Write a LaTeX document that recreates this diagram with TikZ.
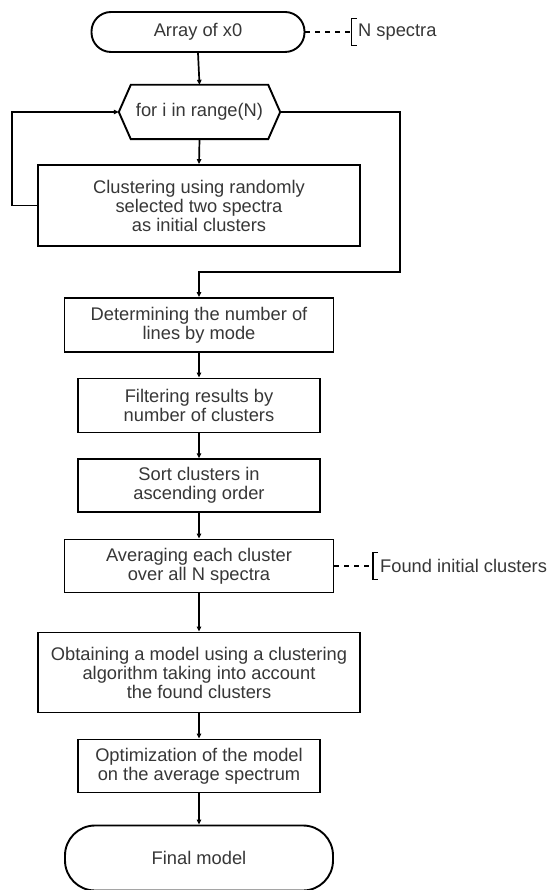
\documentclass[tikz,border=0pt]{standalone}
\usepackage{fontspec}
\setmainfont{Liberation Sans}
\usetikzlibrary{arrows.meta}
\definecolor{txt}{RGB}{55,55,55}
\tikzset{
  every node/.style={font=\fontsize{18.3}{19}\selectfont, text=txt, align=center, inner sep=0pt},
  box/.style={draw=black, line width=1.9pt, minimum width=#1},
  term/.style={draw=black, line width=1.9pt, rounded corners=#1},
  arr/.style={draw=black, line width=1.7pt, -{Triangle[length=5pt,width=4.5pt]}},
  dsh/.style={draw=black, line width=1.7pt, dash pattern=on 5pt off 5pt},
  brk/.style={draw=black, line width=1.7pt},
}
\begin{document}
\begin{tikzpicture}[x=1pt,y=-1pt]
\useasboundingbox (0,0) rectangle (549,890);
\fill[white] (0,0) rectangle (549,890);

\node[term=19.5pt, minimum width=213pt, minimum height=40pt] (start) at (198,32) {Array of x0};
\node[minimum width=161pt, minimum height=54pt] (hex) at (199.5,112) {for i in range(N)};
\draw[line width=1.9pt] (hex.west) -- ([xshift=12pt]hex.north west) -- ([xshift=-12pt]hex.north east)
  -- (hex.east) -- ([xshift=-12pt]hex.south east) -- ([xshift=12pt]hex.south west) -- cycle;

\node[box=322pt, minimum height=81pt] (clust) at (199,205.5) {Clustering using randomly\\selected two spectra\\as initial clusters};
\node[box=269pt, minimum height=54pt] (det) at (199,325) {Determining the number of\\lines by mode};
\node[box=242pt, minimum height=54pt] (filt) at (199,405.5) {Filtering results by\\number of clusters};
\node[box=242pt, minimum height=53pt] (sort) at (199,485.7) {Sort clusters in\\ascending order};
\node[box=269pt, minimum height=53pt] (avg) at (199,566) {Averaging each cluster\\over all N spectra};
\node[box=322pt, minimum height=80pt] (obt) at (199,672.5) {Obtaining a model using a clustering\\algorithm taking into account\\the found clusters};
\node[box=242pt, minimum height=53pt] (opt) at (199,766) {Optimization of the model\\on the average spectrum};
\node[term=30pt, minimum width=268pt, minimum height=65pt] (fin) at (199,858) {Final model};

% connectors
\draw[arr] (start.south) -- (hex.north);
\draw[arr] (hex.south) -- (clust.north);
\coordinate (lb) at (12,205.5);
\draw[arr] (clust.west) -- (lb) |- (hex.west);
\coordinate (rb) at (400,272);
\draw[arr] (hex.east) -| (rb) -| (det.north);
\draw[arr] (det.south) -- (filt.north);
\draw[arr] (filt.south) -- (sort.north);
\draw[arr] (sort.south) -- (avg.north);
\draw[arr] (avg.south) -- (obt.north);
\draw[arr] (obt.south) -- (opt.north);
\draw[arr] (opt.south) -- (fin.north);

% annotations
\node[anchor=west] (ann1) at (358,32) {N spectra};
\draw[brk] ([xshift=-1.5pt,yshift=13.5pt]ann1.west) -- ([xshift=-6.5pt,yshift=13.5pt]ann1.west)
  -- ([xshift=-6.5pt,yshift=-13.5pt]ann1.west) -- ([xshift=-1.5pt,yshift=-13.5pt]ann1.west);
\draw[dsh] (start.east) -- ([xshift=-6.5pt]ann1.west);

\node[anchor=west] (ann2) at (380,566) {Found initial clusters};
\draw[brk] ([xshift=-2pt,yshift=13.5pt]ann2.west) -- ([xshift=-7pt,yshift=13.5pt]ann2.west)
  -- ([xshift=-7pt,yshift=-13.5pt]ann2.west) -- ([xshift=-2pt,yshift=-13.5pt]ann2.west);
\draw[dsh] (avg.east) -- ([xshift=-7pt]ann2.west);
\end{tikzpicture}
\end{document}
